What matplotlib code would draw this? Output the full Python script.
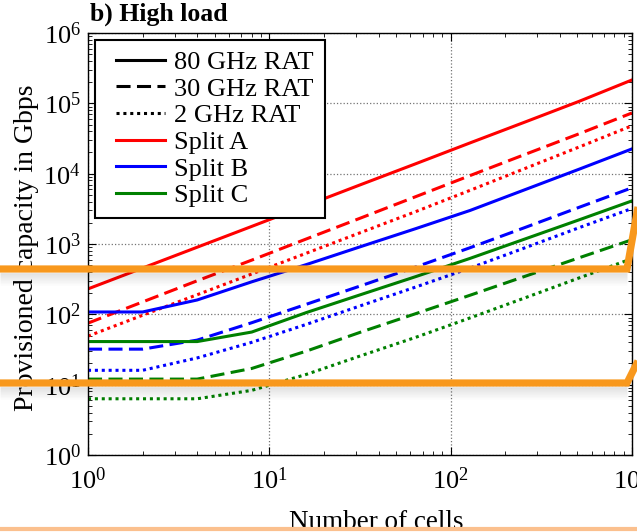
import matplotlib
matplotlib.use('Agg')
import matplotlib.pyplot as plt
from matplotlib.lines import Line2D
from matplotlib.legend_handler import HandlerLine2D
from matplotlib.ticker import LogLocator, NullFormatter

plt.rcParams['font.family'] = ['Liberation Serif', 'DejaVu Serif']
plt.rcParams['mathtext.fontset'] = 'custom'
plt.rcParams['mathtext.rm'] = 'Liberation Serif'
plt.rcParams['mathtext.it'] = 'Liberation Serif:italic'
plt.rcParams['mathtext.bf'] = 'Liberation Serif:bold'

# ---------------- data ----------------
cells = [1, 2, 4, 8, 16, 32, 64, 128, 256, 512, 1000]

splitA_80 = [230, 455, 900, 1780, 3530, 7000, 13800, 27400, 54000, 107000, 215000]
splitA_30 = [75, 150, 300, 590, 1180, 2350, 4700, 9400, 18700, 37000, 73000]
splitA_2 = [49, 97, 190, 375, 740, 1460, 2880, 5800, 11800, 24000, 48000]

splitB_80 = [108, 108, 160, 290, 510, 920, 1650, 3000, 5900, 11600, 22500]
splitB_30 = [32, 32, 43, 76, 139, 255, 470, 886, 1710, 3330, 6300]
splitB_2 = [16, 16, 24, 40, 72, 133, 244, 455, 880, 1710, 3200]

splitC_80 = [41, 41, 41, 56, 106, 191, 343, 625, 1175, 2210, 4100]
splitC_30 = [12, 12, 12, 17, 30, 56, 102, 187, 346, 638, 1150]
splitC_2 = [6.3, 6.3, 6.3, 8.3, 14, 25.8, 47, 89, 171, 330, 620]

legend_labels = ['80 GHz RAT', '30 GHz RAT', '2 GHz RAT', 'Split A', 'Split B', 'Split C']
title_text = 'b) High load'
xlabel_text = 'Number of cells'
ylabel_text = 'Provisioned capacity in Gbps'

# ---------------- figure ----------------
W, H = 637, 532
fig = plt.figure(figsize=(W / 100, H / 100), dpi=100)
ax = fig.add_axes([88 / W, 77 / H, 544 / W, 422 / H])

lw = 2.2
dash = (0, (4.6, 2.1))
dot = (0, (1.0, 1.25))
series = [
    (splitA_80, 'red', '-'), (splitA_30, 'red', dash), (splitA_2, 'red', dot),
    (splitB_80, 'blue', '-'), (splitB_30, 'blue', dash), (splitB_2, 'blue', dot),
    (splitC_80, 'green', '-'), (splitC_30, 'green', dash), (splitC_2, 'green', dot),
]
for vals, col, ls in series:
    ax.plot(cells, vals, color=col, linestyle=ls, linewidth=lw)

ax.set_xscale('log')
ax.set_yscale('log')
ax.set_xlim(1, 1000)
ax.set_ylim(1, 1e6)

ax.xaxis.set_major_locator(LogLocator(base=10, numticks=10))
ax.yaxis.set_major_locator(LogLocator(base=10, numticks=10))
ax.xaxis.set_minor_locator(LogLocator(base=10, subs=range(2, 10), numticks=100))
ax.yaxis.set_minor_locator(LogLocator(base=10, subs=range(2, 10), numticks=100))
ax.xaxis.set_minor_formatter(NullFormatter())
ax.yaxis.set_minor_formatter(NullFormatter())

ax.tick_params(which='both', direction='in', top=True, right=True, colors='black')
ax.tick_params(which='major', length=6, width=0.8, labelsize=19)
ax.tick_params(which='minor', length=3, width=0.6)
ax.tick_params(axis='x', which='major', pad=9)
ax.tick_params(axis='y', which='major', pad=5)

ax.grid(True, which='major', linestyle=':', color='0.45', linewidth=0.9)
for s in ax.spines.values():
    s.set_linewidth(1.0)
    s.set_color('black')

ax.set_xlabel(xlabel_text, fontsize=19.5)
ax.xaxis.set_label_coords(0.53, -0.13)
ax.set_ylabel(ylabel_text, fontsize=20)
ax.yaxis.set_label_coords(-0.09, 0.49)

fig.text(90 / W, 1 - 21 / H, title_text, fontsize=18.5, fontweight='bold',
         ha='left', va='baseline')

handles = [
    Line2D([], [], color='black', linestyle='-', linewidth=lw),
    Line2D([], [], color='black', linestyle=dash, linewidth=lw),
    Line2D([], [], color='black', linestyle=dot, linewidth=lw),
    Line2D([], [], color='red', linestyle='-', linewidth=lw),
    Line2D([], [], color='blue', linestyle='-', linewidth=lw),
    Line2D([], [], color='green', linestyle='-', linewidth=lw),
]
leg_fs = 19
leg = ax.legend(handles, legend_labels, loc='upper left',
                bbox_to_anchor=(7 / 544, 1 - 7 / 422), fontsize=leg_fs,
                frameon=True, fancybox=False, framealpha=1, edgecolor='black',
                handlelength=2.27, handletextpad=0.34, labelspacing=0.12,
                borderpad=0.4, borderaxespad=0,
                handler_map={Line2D: HandlerLine2D(xpad=0.38)})
leg.get_frame().set_linewidth(1.5)


# ---------------- overlay highlight strokes (screenshot decoration) ----------------
def fp(x, y):
    return x / W, 1 - y / H


def stroke(pts, color, width, z=20, alpha=1.0):
    xs = [fp(x, y)[0] for x, y in pts]
    ys = [fp(x, y)[1] for x, y in pts]
    fig.add_artist(Line2D(xs, ys, transform=fig.transFigure, color=color,
                          linewidth=width, alpha=alpha, zorder=z,
                          solid_joinstyle='miter', solid_capstyle='butt'))


for ybase in (269, 383):
    for i in range(1, 14):
        stroke([(0, ybase + 3 + i), (627, ybase + 3 + i)], 'black', 1.0,
               z=19, alpha=0.09 * (1 - i / 14))
stroke([(0, 269), (627, 269), (641, 190)], '#F8981D', 5.2)
stroke([(0, 383), (627, 383), (641, 355)], '#F8981D', 5.2)
stroke([(0, 529), (637, 529)], '#FBC08E', 3.0)

fig.savefig('out.png', dpi=100)
